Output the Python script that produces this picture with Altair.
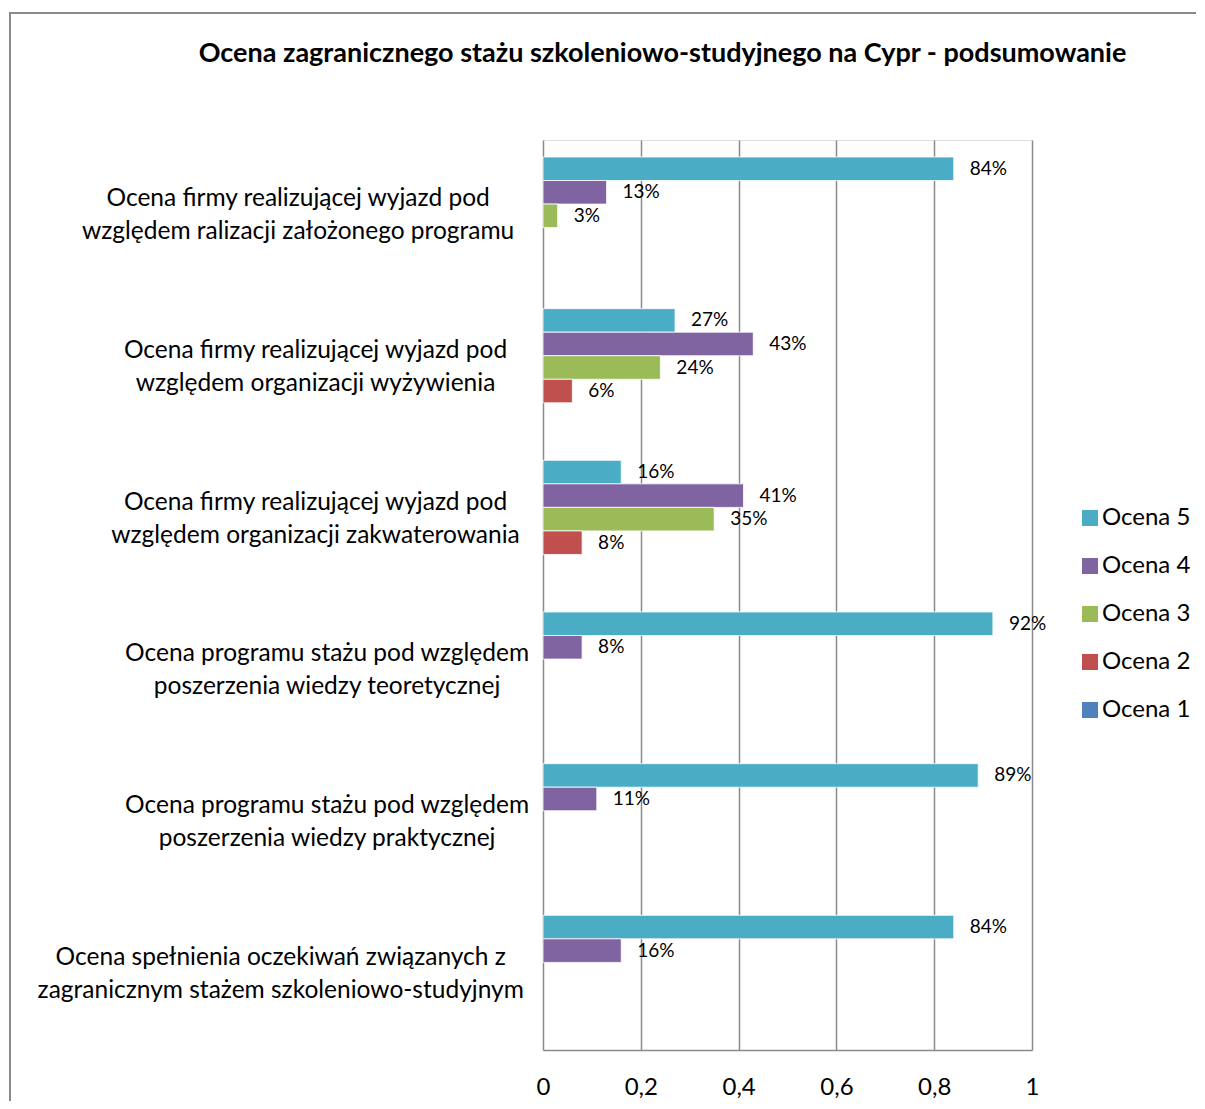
import altair as alt
import pandas as pd

categories = [
    "Ocena firmy realizującej wyjazd pod|względem ralizacji założonego programu",
    "Ocena firmy realizującej wyjazd pod|względem organizacji wyżywienia",
    "Ocena firmy realizującej wyjazd pod|względem organizacji zakwaterowania",
    "Ocena programu stażu pod względem|poszerzenia wiedzy teoretycznej",
    "Ocena programu stażu pod względem|poszerzenia wiedzy praktycznej",
    "Ocena spełnienia oczekiwań związanych z|zagranicznym stażem szkoleniowo-studyjnym",
]
series = ["Ocena 5", "Ocena 4", "Ocena 3", "Ocena 2", "Ocena 1"]
colors = ["#4BACC6", "#8064A2", "#9BBB59", "#C0504D", "#4F81BD"]
ocena5 = [0.84, 0.27, 0.16, 0.92, 0.89, 0.84]
ocena4 = [0.13, 0.43, 0.41, 0.08, 0.11, 0.16]
ocena3 = [0.03, 0.24, 0.35, None, None, None]
ocena2 = [None, 0.06, 0.08, None, None, None]
ocena1 = [None, None, None, None, None, None]
x_ticks = [0, 0.2, 0.4, 0.6, 0.8, 1]
title_text = "Ocena zagranicznego stażu szkoleniowo-studyjnego na Cypr - podsumowanie"

rows = []
for s, vals in zip(series, [ocena5, ocena4, ocena3, ocena2, ocena1]):
    for c, v in zip(categories, vals):
        if v is not None:
            rows.append({"kategoria": c, "seria": s, "wartosc": v})
df = pd.DataFrame(rows)

FONT = "Lato"

y_axis = alt.Axis(
    title=None,
    labelExpr="split(datum.label, '|')",
    labelAlign="center",
    labelPadding={"expr": "25 + 5.8*max(length(split(datum.value,'|')[0]), length(split(datum.value,'|')[1]))"},
    labelOffset=-16.5,
    ticks=False,
    tickSize=0,
    domain=False,
    grid=False,
    labelFont=FONT,
    labelFontSize=24.5,
    labelLineHeight=33,
    labelLimit=0,
    labelColor="black",
)

x_axis = alt.Axis(
    title=None,
    values=x_ticks,
    labelExpr="replace(format(datum.value, '~g'), '.', ',')",
    grid=True,
    gridColor="#8a8a8a",
    gridWidth=1.5,
    domainColor="#8a8a8a",
    domainWidth=1.5,
    ticks=False,
    labelFlush=False,
    labelFont=FONT,
    labelFontSize=24,
    labelPadding=25,
    labelColor="black",
)

base = alt.Chart(df).encode(
    y=alt.Y("kategoria:N", sort=categories,
            scale=alt.Scale(paddingInner=0.224, paddingOuter=0.112), axis=y_axis),
    yOffset=alt.YOffset("seria:N", sort=series,
                        scale=alt.Scale(domain=series, paddingInner=0, paddingOuter=0)),
    x=alt.X("wartosc:Q", scale=alt.Scale(domain=[0, 1], nice=False), axis=x_axis),
)

bars = base.mark_bar(stroke="white", strokeWidth=0.8).encode(
    color=alt.Color(
        "seria:N",
        scale=alt.Scale(domain=series, range=colors),
        legend=alt.Legend(
            title=None, orient="none", legendX=535, legendY=366,
            symbolType="square", symbolSize=256, symbolStrokeWidth=0,
            labelFont=FONT, labelFontSize=24, labelColor="black",
            labelOffset=0, rowPadding=24, padding=0,
        ),
    )
)

labels = base.mark_text(
    align="left", baseline="middle", dx=16, font=FONT, fontSize=19, color="black"
).encode(text=alt.Text("wartosc:Q", format=".0%"))

frame = alt.Chart(pd.DataFrame({"f": [0]})).mark_rect(
    fillOpacity=0, stroke="#8a8a8a", strokeWidth=2
).encode(
    x=alt.value(-533), x2=alt.value(700), y=alt.value(-127), y2=alt.value(1000)
)

chart = alt.layer(frame, bars, labels).properties(
    width=489,
    height=910,
    title=alt.Title(
        title_text, font=FONT, fontSize=27, fontWeight="bold", color="black",
        anchor="middle", frame="group", dx=-125, offset=0, dy=56,
    ),
    autosize=alt.AutoSizeParams(type="none"),
    padding={"left": 535, "top": 132, "right": 164, "bottom": 51},
).configure_view(stroke="transparent").configure(background="white")

chart.save("out.html", embed_options={"renderer": "svg", "actions": False})
